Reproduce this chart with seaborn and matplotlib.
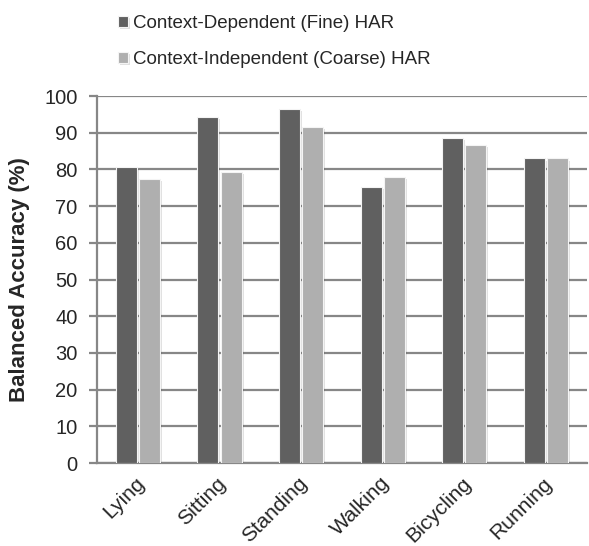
import matplotlib
matplotlib.use("Agg")
import matplotlib.pyplot as plt
import matplotlib.patheffects as pe
import matplotlib.transforms as mtrans
import seaborn as sns
import pandas as pd

activities = ["Lying", "Sitting", "Standing", "Walking", "Bicycling", "Running"]
fine = [80.8, 94.4, 96.5, 75.3, 88.5, 83.0]
coarse = [77.3, 79.3, 91.6, 78.0, 86.8, 83.0]
series = ["Context-Dependent (Fine) HAR", "Context-Independent (Coarse) HAR"]
yticks = list(range(0, 101, 10))

df = pd.DataFrame({
    "Activity": activities * 2,
    "Accuracy": fine + coarse,
    "Series": [series[0]] * len(activities) + [series[1]] * len(activities),
})

sns.set_theme(style="white")
plt.rcParams['font.family'] = ['Liberation Sans', 'DejaVu Sans']

fig = plt.figure(figsize=(5.89, 5.46), dpi=100)
ax = fig.add_axes([0.165, 0.152, 0.831, 0.672])

sns.barplot(data=df, x="Activity", y="Accuracy", hue="Series",
            palette=["#606060", "#afafaf"], width=0.57, gap=0.1,
            edgecolor="#f4f4f4", linewidth=0.8, ax=ax, zorder=3)

for p in ax.patches:
    p.set_path_effects([pe.SimplePatchShadow(offset=(1.5, -1.5), shadow_rgbFace="#000000", alpha=0.12),
                        pe.Normal()])

ax.set_ylim(0, 100)
ax.set_yticks(yticks)
ax.set_yticklabels([str(t) for t in yticks], fontsize=14.5)
ax.set_xlim(-0.5, 5.5)
ax.yaxis.grid(True, color="#878787", linewidth=1.6, zorder=0)
ax.set_axisbelow(True)
for s in ["top", "right"]:
    ax.spines[s].set_visible(False)
for s in ["left", "bottom"]:
    ax.spines[s].set_color("#878787")
    ax.spines[s].set_linewidth(1.6)
ax.tick_params(axis="y", which="both", left=True, length=6, width=1.6,
               color="#878787", pad=8)
ax.tick_params(axis="x", bottom=False, pad=3)
offset = mtrans.ScaledTranslation(-3 / 100, 2 / 100, fig.dpi_scale_trans)
for lab in ax.get_xticklabels():
    lab.set_rotation(45)
    lab.set_ha("right")
    lab.set_rotation_mode("anchor")
    lab.set_fontsize(15.2)
    lab.set_transform(lab.get_transform() + offset)
ax.set_xlabel("")
ax.set_ylabel("Balanced Accuracy (%)", fontsize=16, fontweight="bold", labelpad=10)

ax.get_legend().remove()
handles, labels = ax.get_legend_handles_labels()
fig.legend(handles, labels, loc="upper left", bbox_to_anchor=(0.201, 0.972),
           frameon=False, fontsize=13.5, handlelength=0.5, handleheight=0.5,
           handletextpad=0.3, labelspacing=1.0, borderpad=0, borderaxespad=0)

fig.savefig("out.png", dpi=100)
